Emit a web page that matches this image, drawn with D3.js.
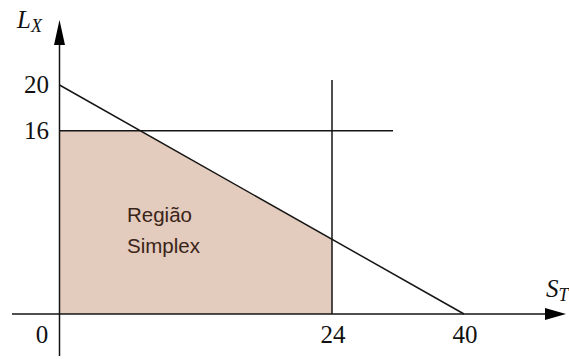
<!DOCTYPE html>
<html>
<head>
<meta charset="utf-8">
<script src="https://cdn.jsdelivr.net/npm/d3@7"></script>
<style>
  body { margin: 0; background: #fff; }
  .tick-label { font-family: "Liberation Serif", "DejaVu Serif", serif; font-size: 25px; fill: #111; }
  .axis-name { font-family: "Liberation Serif", "DejaVu Serif", serif; font-style: italic; fill: #111; }
  .region-label { font-family: "Liberation Sans", Arial, sans-serif; font-size: 20.5px; fill: #3a2418; }
</style>
</head>
<body>
<div id="chart"></div>
<script>
// axis values (schematic: not to scale, as in the original sketch)
const xTicks = [0, 24, 40];
const yTicks = [0, 16, 20];
// constraint lines
const budgetLine = [[0, 20], [40, 0]];   // S_T/40 + L_X/20 = 1
const sLimit = 24;                       // S_T <= 24
const lLimit = 16;                       // L_X <= 16
const regionText = ["Região", "Simplex"];

const W = 569, H = 359;
const DIVID = "#chart";

const x = d3.scaleLinear().domain([0, 24, 40]).range([59.5, 332, 464]);
const y = d3.scaleLinear().domain([0, 20]).range([314, 85]);

const svg = d3.select(DIVID).append("svg")
  .attr("width", W)
  .attr("height", H);

// pixel position of the budget line where it meets a given x or y pixel
const p0 = budgetLine.map(d => [x(d[0]), y(d[1])]);
function lineAtY(py) {
  const t = (py - p0[0][1]) / (p0[1][1] - p0[0][1]);
  return p0[0][0] + t * (p0[1][0] - p0[0][0]);
}
function lineAtX(px) {
  const t = (px - p0[0][0]) / (p0[1][0] - p0[0][0]);
  return p0[0][1] + t * (p0[1][1] - p0[0][1]);
}

// feasible region
const region = [
  [x(0), y(0)],
  [x(0), y(lLimit)],
  [lineAtY(y(lLimit)), y(lLimit)],
  [x(sLimit), lineAtX(x(sLimit))],
  [x(sLimit), y(0)]
];
svg.append("path")
  .attr("d", d3.line()(region) + "Z")
  .attr("fill", "#e3cbbd");

svg.append("text")
  .attr("class", "region-label")
  .selectAll("tspan")
  .data(regionText)
  .join("tspan")
  .attr("x", 127)
  .attr("y", (d, i) => 222 + i * 31)
  .text(d => d);

const stroke = "#151515";

// constraint lines
svg.append("line")
  .attr("x1", x(0)).attr("x2", 393)
  .attr("y1", y(lLimit)).attr("y2", y(lLimit))
  .attr("stroke", stroke).attr("stroke-width", 1.5);

svg.append("line")
  .attr("x1", x(sLimit)).attr("x2", x(sLimit))
  .attr("y1", 80).attr("y2", y(0))
  .attr("stroke", stroke).attr("stroke-width", 1.5);

svg.append("path")
  .attr("d", d3.line()(p0))
  .attr("fill", "none")
  .attr("stroke", stroke).attr("stroke-width", 1.5);

// axes
svg.append("line")
  .attr("x1", 12).attr("x2", 548)
  .attr("y1", y(0)).attr("y2", y(0))
  .attr("stroke", stroke).attr("stroke-width", 1.5);
svg.append("path")
  .attr("d", `M545,${y(0) - 6}L566,${y(0)}L545,${y(0) + 6}Z`)
  .attr("fill", "#000");

svg.append("line")
  .attr("x1", x(0)).attr("x2", x(0))
  .attr("y1", 356).attr("y2", 42)
  .attr("stroke", stroke).attr("stroke-width", 1.5);
svg.append("path")
  .attr("d", `M${x(0) - 5.5},45L${x(0)},20L${x(0) + 5.5},45Z`)
  .attr("fill", "#000");

// tick labels
svg.selectAll(".ylab")
  .data(yTicks.filter(d => d > 0))
  .join("text")
  .attr("class", "tick-label ylab")
  .attr("x", 49)
  .attr("y", d => y(d) + 8)
  .attr("text-anchor", "end")
  .text(d => d);

svg.selectAll(".xlab")
  .data(xTicks)
  .join("text")
  .attr("class", "tick-label xlab")
  .attr("x", d => d === 0 ? 42 : x(d) + 1)
  .attr("y", 343)
  .attr("text-anchor", "middle")
  .text(d => d);

// axis names
const ly = svg.append("text").attr("class", "axis-name").attr("x", 17).attr("y", 28);
ly.append("tspan").attr("font-size", 25).text("L");
ly.append("tspan").attr("font-size", 18).attr("dy", 4).text("X");

const sx = svg.append("text").attr("class", "axis-name").attr("x", 546).attr("y", 297);
sx.append("tspan").attr("font-size", 25).text("S");
sx.append("tspan").attr("font-size", 18).attr("dy", 4).text("T");
</script>
</body>
</html>
